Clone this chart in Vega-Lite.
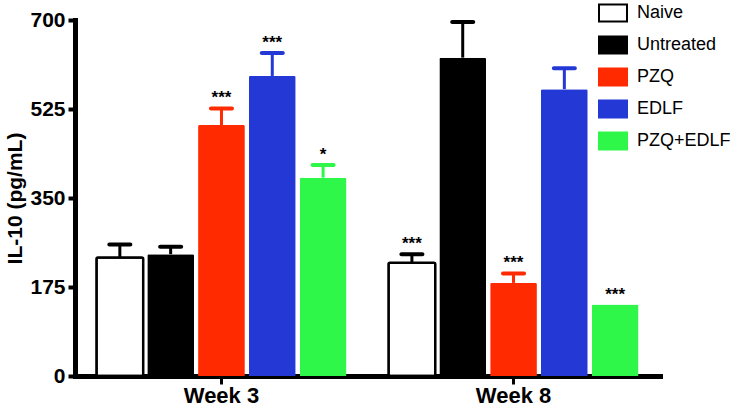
{
  "$schema": "https://vega.github.io/schema/vega-lite/v6.json",
  "width": 585,
  "height": 356,
  "autosize": {"type": "none"},
  "padding": {"left": 75, "top": 20, "right": 74, "bottom": 33},
  "background": "white",
  "config": {"view": {"stroke": null}, "font": "Liberation Sans"},
  "data": {
    "values": [
      {"week": "Week 3", "group": "Naive", "value": 233, "upper": 258.6, "sig": ""},
      {"week": "Week 3", "group": "Untreated", "value": 239.5, "upper": 254, "sig": ""},
      {"week": "Week 3", "group": "PZQ", "value": 493.5, "upper": 526, "sig": "***"},
      {"week": "Week 3", "group": "EDLF", "value": 590, "upper": 635, "sig": "***"},
      {"week": "Week 3", "group": "PZQ+EDLF", "value": 390, "upper": 415, "sig": "*"},
      {"week": "Week 8", "group": "Naive", "value": 222.5, "upper": 239.5, "sig": "***"},
      {"week": "Week 8", "group": "Untreated", "value": 626, "upper": 696, "sig": ""},
      {"week": "Week 8", "group": "PZQ", "value": 183, "upper": 201.6, "sig": "***"},
      {"week": "Week 8", "group": "EDLF", "value": 564, "upper": 605, "sig": ""},
      {"week": "Week 8", "group": "PZQ+EDLF", "value": 140.5, "upper": 140.5, "sig": "***"}
    ]
  },
  "encoding": {
    "x": {
      "field": "week",
      "type": "nominal",
      "scale": {"paddingInner": 0.144, "paddingOuter": 0.0735},
      "axis": {
        "title": null,
        "labelAngle": 0,
        "domainWidth": 5,
        "domainColor": "black",
        "domainCap": "square",
        "tickWidth": 3,
        "tickSize": 8,
        "tickColor": "black",
        "labelFontSize": 22,
        "labelFontWeight": "bold",
        "labelColor": "black",
        "labelPadding": 1
      }
    },
    "xOffset": {
      "field": "group",
      "type": "nominal",
      "sort": ["Naive", "Untreated", "PZQ", "EDLF", "PZQ+EDLF"],
      "scale": {"paddingInner": 0.08, "paddingOuter": 0}
    }
  },
  "layer": [
    {
      "mark": {"type": "bar", "cornerRadiusTopLeft": 1.5, "cornerRadiusTopRight": 1.5},
      "encoding": {
        "y": {
          "field": "value",
          "type": "quantitative",
          "scale": {"domain": [0, 700], "nice": false},
          "axis": {
            "title": "IL-10 (pg/mL)",
            "values": [0, 175, 350, 525, 700],
            "grid": false,
            "domainWidth": 5,
            "domainColor": "black",
            "domainCap": "square",
            "tickWidth": 4,
            "tickSize": 7,
            "tickColor": "black",
            "labelFontSize": 21,
            "labelFontWeight": "bold",
            "labelColor": "black",
            "labelPadding": 3,
            "titleFontSize": 21,
            "titleFontWeight": "bold",
            "titleColor": "black",
            "titlePadding": 4
          }
        },
        "fill": {
          "field": "group",
          "type": "nominal",
          "sort": ["Naive", "Untreated", "PZQ", "EDLF", "PZQ+EDLF"],
          "scale": {
            "domain": ["Naive", "Untreated", "PZQ", "EDLF", "PZQ+EDLF"],
            "range": ["#ffffff", "#000000", "#ff2a00", "#2438d6", "#2ef74a"]
          },
          "legend": {
            "title": null,
            "orient": "none",
            "legendX": 523,
            "legendY": -22,
            "padding": 0,
            "symbolType": "M-1,-0.6H1V0.6H-1Z",
            "symbolSize": 784,
            "symbolStrokeWidth": 2,
            "symbolOpacity": 1,
            "labelFontSize": 18,
            "labelFont": "Liberation Sans",
            "labelColor": "black",
            "labelOffset": 9,
            "labelLimit": 0,
            "rowPadding": 4
          }
        },
        "stroke": {
          "field": "group",
          "type": "nominal",
          "sort": ["Naive", "Untreated", "PZQ", "EDLF", "PZQ+EDLF"],
          "scale": {
            "domain": ["Naive", "Untreated", "PZQ", "EDLF", "PZQ+EDLF"],
            "range": ["#000000", "#000000", "#ff2a00", "#2438d6", "#2ef74a"]
          }
        },
        "strokeWidth": {
          "condition": {"test": "datum.group === 'Naive'", "value": 2.5},
          "value": 0
        }
      }
    },
    {
      "transform": [{"filter": "datum.upper > datum.value"}],
      "mark": {"type": "rule", "strokeWidth": 3},
      "encoding": {
        "y": {"field": "value", "type": "quantitative"},
        "y2": {"field": "upper"},
        "stroke": {"field": "group", "type": "nominal", "legend": null}
      }
    },
    {
      "transform": [{"filter": "datum.upper > datum.value"}],
      "mark": {"type": "tick", "size": 25, "thickness": 4, "cornerRadius": 2, "opacity": 1},
      "encoding": {
        "y": {"field": "upper", "type": "quantitative"},
        "color": {
          "field": "group",
          "type": "nominal",
          "scale": {
            "domain": ["Naive", "Untreated", "PZQ", "EDLF", "PZQ+EDLF"],
            "range": ["#000000", "#000000", "#ff2a00", "#2438d6", "#2ef74a"]
          },
          "legend": null
        }
      }
    },
    {
      "transform": [{"filter": "datum.sig !== ''"}],
      "mark": {"type": "text", "fontSize": 17, "fontWeight": "bold", "baseline": "alphabetic", "dy": -5, "color": "black"},
      "encoding": {
        "y": {"field": "upper", "type": "quantitative"},
        "text": {"field": "sig"}
      }
    }
  ]
}
